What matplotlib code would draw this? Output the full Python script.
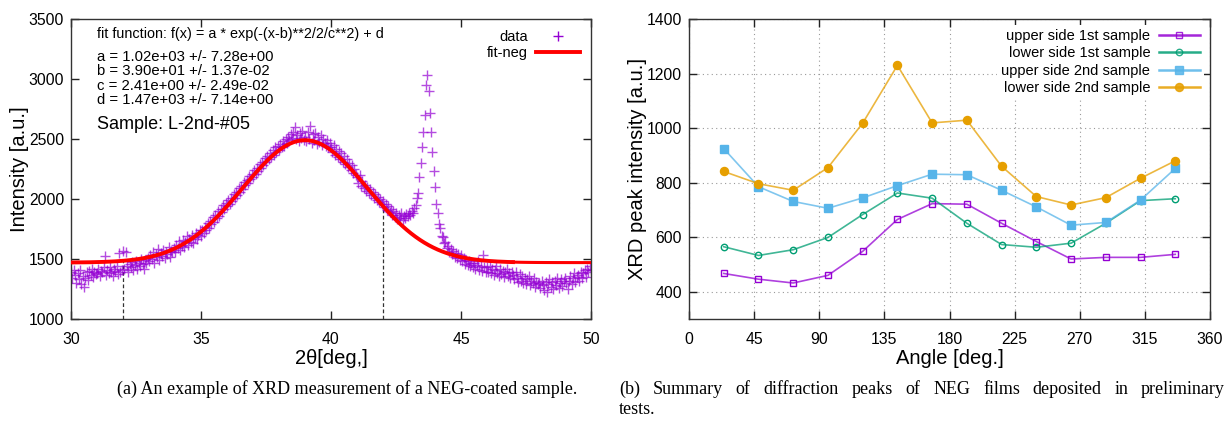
import numpy as np
import matplotlib
matplotlib.use("Agg")
import matplotlib.pyplot as plt
from matplotlib.lines import Line2D

plt.rcParams['font.family'] = ['Liberation Sans', 'DejaVu Sans']

# ---------------- Panel (a) data ----------------
scan_start, scan_step = 30.0, 0.05
intensity_rows = [
    [1395,1340,1410,1365,1300,1385,1330,1405,1290,1360,1270,1345,1390,1325,1400,1370,1415,1350,1395,1375],  # 30
    [1380,1420,1360,1400,1390,1435,1525,1370,1410,1385,1430,1395,1360,1415,1400,1440,1375,1550,1395,1410],  # 31
    [1570,1420,1555,1440,1390,1460,1430,1475,1410,1450,1485,1420,1465,1440,1500,1455,1420,1490,1470,1510],  # 32
    [1480,1530,1500,1560,1470,1545,1515,1580,1490,1550,1525,1575,1505,1560,1540,1600,1520,1570,1555,1590],  # 33
    [1560,1620,1590,1650,1575,1610,1660,1600,1640,1690,1620,1670,1645,1700,1630,1680,1720,1665,1700,1740],  # 34
    [1690,1740,1720,1770,1745,1800,1760,1820,1790,1850,1810,1870,1840,1900,1860,1920,1890,1950,1915,1970],  # 35
    [1940,1990,1960,2010,1985,2040,2010,2060,2035,2090,2060,2110,2085,2140,2115,2160,2130,2190,2165,2210],  # 36
    [2180,2240,2210,2260,2235,2290,2255,2310,2280,2340,2305,2360,2330,2385,2350,2410,2370,2430,2395,2445],  # 37
    [2410,2460,2430,2480,2445,2500,2470,2520,2490,2540,2505,2560,2600,2500,2530,2480,2550,2510,2570,2495],  # 38
    [2520,2480,2560,2500,2610,2470,2540,2495,2550,2460,2520,2475,2535,2450,2500,2465,2440,2490,2430,2470],  # 39
    [2430,2390,2450,2370,2420,2350,2400,2330,2380,2310,2360,2290,2330,2270,2300,2240,2280,2220,2250,2200],  # 40
    [2180,2130,2200,2110,2150,2090,2120,2070,2100,2050,2080,2030,2060,2010,2040,1990,2020,1975,2000,1960],  # 41
    [1980,1930,1960,1905,1940,1890,1915,1870,1900,1850,1885,1830,1870,1845,1880,1825,1860,1840,1875,1855],  # 42
    [1880,1865,1900,1885,1925,1950,2010,2050,2180,2300,2430,2560,2700,2950,3030,2900,2720,2560,2390,2230],  # 43
    [2100,1960,1880,1790,1760,1690,1680,1630,1640,1590,1610,1560,1580,1540,1570,1520,1550,1505,1540,1495],  # 44
    [1530,1480,1510,1460,1495,1450,1485,1440,1470,1430,1465,1420,1450,1480,1410,1445,1400,1530,1435,1395],  # 45
    [1430,1390,1445,1380,1420,1370,1410,1440,1385,1360,1415,1375,1400,1350,1390,1420,1360,1380,1340,1395],  # 46
    [1370,1330,1390,1345,1310,1375,1320,1355,1300,1340,1290,1330,1360,1280,1320,1300,1345,1270,1310,1290],  # 47
    [1300,1260,1320,1280,1240,1310,1225,1290,1330,1270,1305,1250,1315,1285,1340,1260,1300,1330,1275,1320],  # 48
    [1340,1300,1250,1320,1360,1290,1340,1380,1310,1350,1370,1320,1395,1340,1380,1410,1350,1420,1390,1440],  # 49
    [1410],                                                                                                  # 50
]
# fit parameters shown on the chart
fit_a, fit_b, fit_c, fit_d = 1.02e3, 39.0, 2.41, 1.47e3
fit_xmax = 47.0
fit_range_marks = [32.0, 42.0]

# ---------------- Panel (b) data ----------------
angles = [24, 48, 72, 96, 120, 144, 168, 192, 216, 240, 264, 288, 312, 336]
upper_1st = [467, 446, 432, 460, 548, 665, 723, 721, 651, 584, 520, 526, 526, 537]
lower_1st = [565, 533, 554, 599, 683, 762, 743, 651, 573, 563, 578, 651, 734, 741]
upper_2nd = [925, 785, 731, 706, 744, 789, 831, 829, 772, 711, 644, 654, 736, 852]
lower_2nd = [841, 796, 772, 855, 1018, 1230, 1019, 1029, 860, 749, 718, 745, 816, 880]
series_labels = ["upper side 1st sample", "lower side 1st sample",
                 "upper side 2nd sample", "lower side 2nd sample"]

# ---------------------------------------------------------------
W, H = 1227, 421
fig = plt.figure(figsize=(W / 100, H / 100), dpi=100)

axA = fig.add_axes([71 / W, 1 - 319 / H, 520 / W, 300 / H])
axB = fig.add_axes([689 / W, 1 - 319 / H, 521 / W, 300 / H])

spine_col = '#333333'
for ax in (axA, axB):
    for s in ax.spines.values():
        s.set_color(spine_col)
        s.set_linewidth(1.0)
    ax.tick_params(direction='in', top=True, right=True, length=6, width=1,
                   labelsize=11.3, color='#222222', pad=5)
    ax.tick_params(axis='x', pad=9)

# ---- Panel (a)
vals = [v for row in intensity_rows for v in row]
two_theta = scan_start + scan_step * np.arange(len(vals))


def gauss(x):
    return fit_a * np.exp(-(x - fit_b) ** 2 / 2 / fit_c ** 2) + fit_d


for xm in fit_range_marks:
    axA.plot([xm, xm], [1000, gauss(xm)], ls=(0, (3, 2)), color='#333333', lw=0.9, zorder=1)

axA.plot(two_theta, vals, '+', color='#9400D3', ms=6.5, mew=1.0, alpha=0.7,
         label='data', zorder=2)
xf = np.linspace(30, fit_xmax, 400)
axA.plot(xf, gauss(xf), color='#FF0000', lw=2.8, label='fit-neg', zorder=3)
xf2 = np.linspace(fit_xmax, 50, 60)
axA.plot(xf2, gauss(xf2), color='#FF0000', lw=2.2, zorder=3)

axA.set_xlim(30, 50)
axA.set_ylim(1000, 3500)
axA.set_xticks([30, 35, 40, 45, 50])
axA.set_yticks([1000, 1500, 2000, 2500, 3000, 3500])
axA.set_xlabel('2θ[deg,]', fontsize=14.5, labelpad=2)
axA.set_ylabel('Intensity [a.u.]', fontsize=14.5, labelpad=0)

tx = (97 - 71) / 520
axA.text(tx, 1 - (34 - 19) / 300,
         'fit function: f(x) = a * exp(-(x-b)**2/2/c**2) + d',
         transform=axA.transAxes, fontsize=10.4, va='center', ha='left')
param_lines = ['a = 1.02e+03 +/- 7.28e+00',
               'b = 3.90e+01 +/- 1.37e-02',
               'c = 2.41e+00 +/- 2.49e-02',
               'd = 1.47e+03 +/- 7.14e+00']
for i, t in enumerate(param_lines):
    axA.text(tx, 1 - (57 + 14.4 * i - 19) / 300, t,
             transform=axA.transAxes, fontsize=10.7, va='center', ha='left')
axA.text(tx, 1 - (125 - 19) / 300, 'Sample: L-2nd-#05',
         transform=axA.transAxes, fontsize=13, va='center', ha='left')

legA = axA.legend(loc='upper right', bbox_to_anchor=(1.0, 1.0), frameon=False,
                  markerfirst=False, fontsize=10.5, handlelength=3.0,
                  handletextpad=0.6, labelspacing=0.15, borderaxespad=0.35)
for h in legA.legend_handles:
    h.set_alpha(1.0)

# ---- Panel (b)
styles = [
    dict(color='#9400D3', marker='s', mfc='none', ms=4.8, mew=1.0),
    dict(color='#009E73', marker='o', mfc='none', ms=4.6, mew=1.0),
    dict(color='#56B4E9', marker='s', ms=5.6),
    dict(color='#E69F00', marker='o', ms=5.8),
]
handles = []
for ys, lab, st in zip([upper_1st, lower_1st, upper_2nd, lower_2nd], series_labels, styles):
    axB.plot(angles, ys, lw=1.2, color=st['color'], alpha=0.75, zorder=2)
    axB.plot(angles, ys, ls='none', zorder=3, **st)
    handles.append(Line2D([], [], lw=1.8, alpha=0.85, **st))

axB.set_xlim(0, 360)
axB.set_ylim(300, 1400)
axB.set_xticks(range(0, 361, 45))
axB.set_yticks([400, 600, 800, 1000, 1200, 1400])
axB.grid(True, ls=(0, (1, 3)), color='#999999', lw=0.8)
axB.set_axisbelow(True)
axB.set_xlabel('Angle [deg.]', fontsize=14.5, labelpad=2)
axB.set_ylabel('XRD peak intensity [a.u.]', fontsize=14.5, labelpad=0)

legB = axB.legend(handles, series_labels, loc='upper right', frameon=True,
                  markerfirst=False, fontsize=10.5,
                  handlelength=2.8, handletextpad=0.6, labelspacing=0.22,
                  borderaxespad=0.4, fancybox=False, edgecolor='none',
                  facecolor='white', framealpha=1.0, borderpad=0.3)

# ---- Captions
cap_font = dict(family='Liberation Serif', fontsize=13, va='center', ha='left')
fig.text(117 / W, 1 - 389 / H,
         '(a) An example of XRD measurement of a NEG-coated sample.', **cap_font)

# justified first line of caption (b)
cap_b_line1 = '(b) Summary of diffraction peaks of NEG films deposited in preliminary'
words = cap_b_line1.split(' ')
renderer = fig.canvas.get_renderer()
widths = []
for wd in words:
    t = fig.text(0, 0, wd, **cap_font)
    widths.append(t.get_window_extent(renderer).width)
    t.remove()
x0, x1 = 619.0, 1225.0
gap = (x1 - x0 - sum(widths)) / (len(words) - 1)
xc = x0
for wd, wpx in zip(words, widths):
    fig.text(xc / W, 1 - 389 / H, wd, **cap_font)
    xc += wpx + gap
fig.text(619 / W, 1 - 410 / H, 'tests.', **cap_font)

fig.savefig('out.png', dpi=100)
